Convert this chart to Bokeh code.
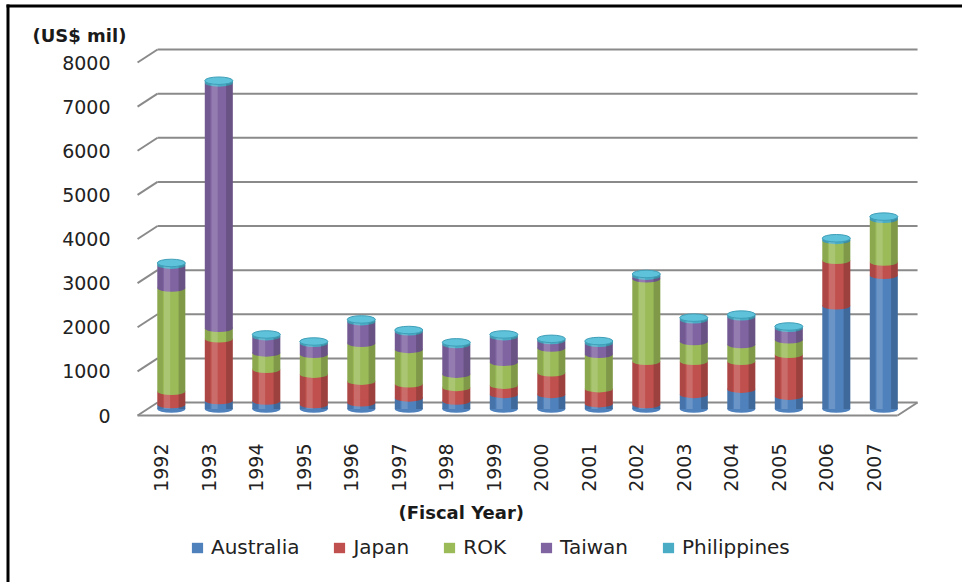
import numpy as np
from bokeh.plotting import figure
from bokeh.models import ColumnDataSource, FixedTicker, Label, Legend, LegendItem, Range1d
from bokeh.embed import file_html
from bokeh.resources import INLINE

# ---------------- data (US$ million, by fiscal year) ----------------
years = ["1992", "1993", "1994", "1995", "1996", "1997", "1998", "1999",
         "2000", "2001", "2002", "2003", "2004", "2005", "2006", "2007"]
australia = [100, 190, 180, 100, 140, 250, 180, 330, 330, 120, 100, 330, 450, 290, 2340, 3030]
japan = [300, 1400, 720, 690, 490, 320, 310, 210, 490, 340, 980, 750, 630, 950, 1030, 300]
rok = [2340, 240, 370, 450, 860, 780, 300, 520, 560, 780, 1870, 450, 380, 330, 450, 970]
taiwan = [520, 5560, 370, 250, 490, 400, 670, 580, 170, 250, 60, 490, 630, 260, 0, 0]
philippines = [50, 50, 50, 40, 50, 40, 50, 50, 40, 50, 50, 50, 50, 40, 50, 60]

series_names = ["Australia", "Japan", "ROK", "Taiwan", "Philippines"]
series_values = [australia, japan, rok, taiwan, philippines]
series_colors = ["#4F81BD", "#C0504D", "#9BBB59", "#8064A2", "#4BACC6"]
y_ticks = [0, 1000, 2000, 3000, 4000, 5000, 6000, 7000, 8000]

# ---------------- layout constants (page pixels) ----------------
W, H = 962, 582
X0_PX, PX_PER_CAT = 160.8, 47.5     # front centre of the first category
Y0_PX, PX_PER_UNIT = 415.0, 353.0 / 8000.0


def dx(px):
    return (px - X0_PX) / PX_PER_CAT


def dy(py):
    return (Y0_PX - py) / PX_PER_UNIT


DX = 20.0 / PX_PER_CAT             # 3-D depth offset
DY = 13.0 / PX_PER_UNIT
BAR_W = 28.0 / PX_PER_CAT
ELL_H = 7.5 / PX_PER_UNIT
n = len(years)

p = figure(width=W, height=H, title=None,
           x_range=Range1d(dx(0), dx(W)), y_range=Range1d(dy(H), dy(0)),
           output_backend="svg", toolbar_location=None,
           min_border_left=0, min_border_right=0, min_border_top=0, min_border_bottom=0)
p.styles = {"overflow": "hidden"}
p.outline_line_color = None
p.background_fill_color = "white"
p.border_fill_color = "white"
p.xgrid.visible = False
p.ygrid.visible = False

# ---------------- axes (drawn inside the frame) ----------------
p.yaxis.fixed_location = dx(112)
p.yaxis.ticker = FixedTicker(ticks=y_ticks)
p.yaxis.axis_line_color = None
p.yaxis.major_tick_line_color = None
p.yaxis.minor_tick_line_color = None
p.yaxis.major_tick_out = 0
p.yaxis.major_tick_in = 0
p.yaxis.major_label_standoff = 2
p.yaxis.major_label_text_font = "DejaVu Sans"
p.yaxis.major_label_text_font_size = "19px"
p.yaxis.major_label_text_color = "#222222"

p.xaxis.fixed_location = 0
p.xaxis.ticker = FixedTicker(ticks=list(range(n)))
p.xaxis.major_label_overrides = {i: y for i, y in enumerate(years)}
p.xaxis.major_label_orientation = np.pi / 2
p.xaxis.axis_line_color = None
p.xaxis.major_tick_line_color = None
p.xaxis.minor_tick_line_color = None
p.xaxis.major_tick_out = 0
p.xaxis.major_tick_in = 0
p.xaxis.major_label_standoff = 28
p.xaxis.major_label_text_font = "DejaVu Sans"
p.xaxis.major_label_text_font_size = "19px"
p.xaxis.major_label_text_color = "#222222"

# ---------------- outer border (top and left) ----------------
p.segment(x0=[dx(6), dx(7.5)], y0=[dy(5.5), dy(4)], x1=[dx(W), dx(7.5)], y1=[dy(5.5), dy(H)],
          line_color="black", line_width=3)

# ---------------- 3-D walls and floor ----------------
grid_col = "#8a8a8a"
left, right = -0.5, n - 0.5
p.segment(x0=[left + DX] * len(y_ticks), y0=[v + DY for v in y_ticks],
          x1=[right + DX] * len(y_ticks), y1=[v + DY for v in y_ticks],
          line_color=grid_col, line_width=2)
p.segment(x0=[left] * len(y_ticks), y0=y_ticks,
          x1=[left + DX] * len(y_ticks), y1=[v + DY for v in y_ticks],
          line_color=grid_col, line_width=2)
p.segment(x0=[left, right], y0=[0, 0], x1=[right, right + DX], y1=[0, DY],
          line_color=grid_col, line_width=2)

# ---------------- stacked cylinders ----------------
xs = [i + DX / 2 for i in range(n)]
base = [DY / 2] * n
renderers = []
for name, vals, col in zip(series_names, series_values, series_colors):
    bx, bb, bt = [], [], []
    for i in range(n):
        if vals[i] > 0:
            bx.append(xs[i])
            bb.append(base[i])
            bt.append(base[i] + vals[i])
        base[i] += vals[i]
    src = ColumnDataSource(dict(x=bx, bottom=bb, top=bt))
    r = p.vbar(x="x", bottom="bottom", top="top", width=BAR_W, source=src,
               fill_color=col, line_color=None)
    p.ellipse(x="x", y="bottom", width=BAR_W, height=ELL_H, source=src,
              fill_color=col, line_color=None)
    renderers.append(r)

# cylinder shading (edge shadows and a soft highlight)
for off, frac, col, alpha in [(-0.40, 0.20, "black", 0.10), (0.38, 0.24, "black", 0.18),
                              (-0.15, 0.22, "white", 0.16)]:
    shade = ColumnDataSource(dict(x=[v + off * BAR_W for v in xs], bottom=[DY / 2] * n, top=base))
    p.vbar(x="x", bottom="bottom", top="top", width=BAR_W * frac, source=shade,
           fill_color=col, fill_alpha=alpha, line_color=None)

cap_src = ColumnDataSource(dict(x=xs, y=base))
p.ellipse(x="x", y="y", width=BAR_W, height=ELL_H, source=cap_src,
          fill_color="#5ec2da", line_color="#3f9fb8", line_width=1)

# ---------------- texts ----------------
p.add_layout(Label(x=dx(32), y=dy(35), text="(US$ mil)", text_font="DejaVu Sans",
                   text_font_style="bold", text_font_size="18px", text_baseline="middle",
                   text_align="left", text_color="#1a1a1a"))
p.add_layout(Label(x=dx(398), y=dy(512), text="(Fiscal Year)", text_font="DejaVu Sans",
                   text_font_style="bold", text_font_size="18px", text_baseline="middle",
                   text_align="left", text_color="#1a1a1a"))

legend = Legend(items=[LegendItem(label=nm, renderers=[r]) for nm, r in zip(series_names, renderers)],
                orientation="horizontal", location=(190, H - 559),
                glyph_width=14, glyph_height=13, label_standoff=7, spacing=33,
                padding=0, margin=0, border_line_color=None, background_fill_alpha=0,
                label_text_font="DejaVu Sans", label_text_font_size="20px",
                label_text_color="#222222")
p.add_layout(legend)

open("out.html", "w").write(file_html(p, INLINE))
